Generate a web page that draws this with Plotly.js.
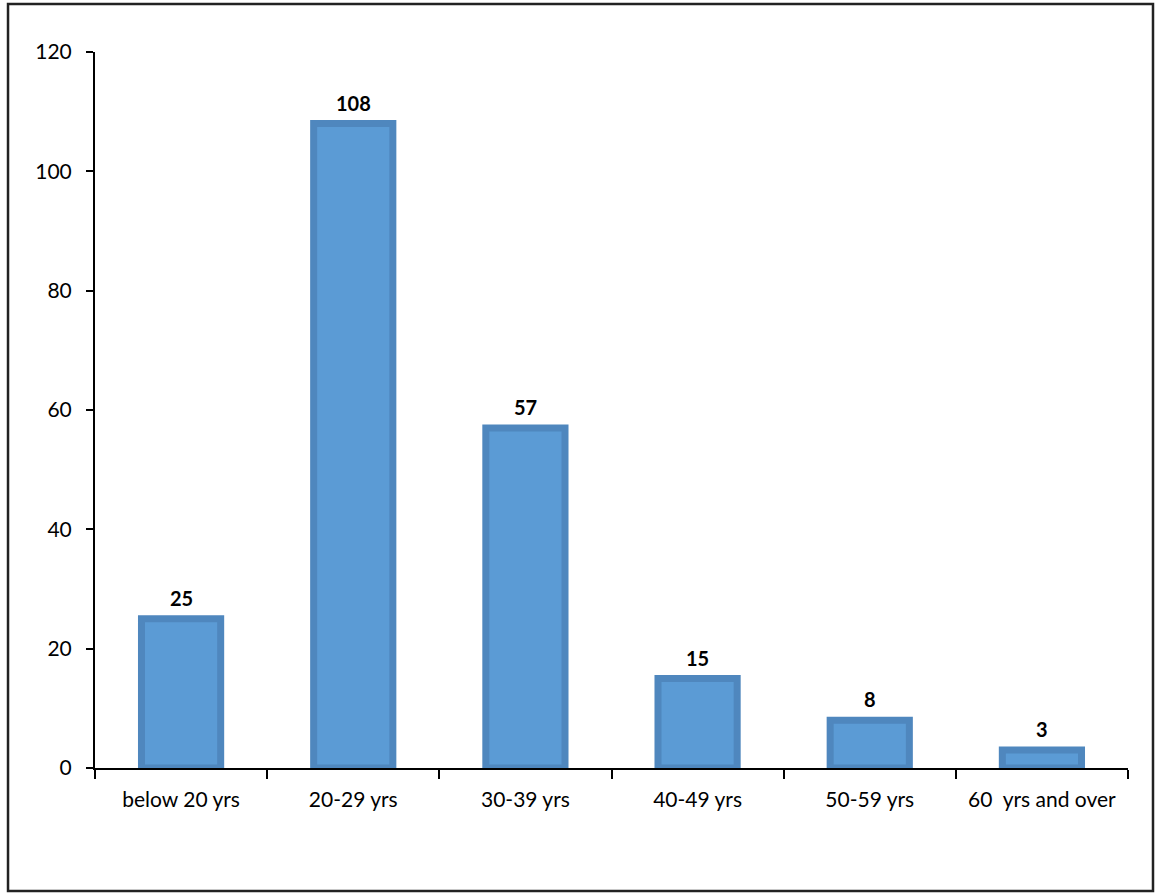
<!DOCTYPE html>
<html>
<head>
<meta charset="utf-8">
<script src="https://cdn.plot.ly/plotly-3.0.1.min.js"></script>
<style>
html,body{margin:0;padding:0;background:#fff;}
#chart{width:1156px;height:894px;}
</style>
</head>
<body>
<div id="chart"></div>
<script>
var categories = ["below 20 yrs", "20-29 yrs", "30-39 yrs", "40-49 yrs", "50-59 yrs", "60  yrs and over"];
var values = [25, 108, 57, 15, 8, 3];
var yTicks = [0, 20, 40, 60, 80, 100, 120];

var FONT = "Lato, 'Liberation Sans', sans-serif";

var trace = {
  type: "bar",
  x: categories,
  y: values,
  width: 0.46,
  marker: {color: "#5B9BD5", line: {color: "#4F87BE", width: 7}},
  cliponaxis: true,
  hoverinfo: "x+y"
};

var annotations = categories.map(function (c, i) {
  return {
    x: c, y: values[i], xref: "x", yref: "y",
    text: "<b>" + values[i] + "</b>",
    showarrow: false,
    yanchor: "bottom",
    yshift: 7,
    font: {family: FONT, size: 20, color: "#000"}
  };
});

var layout = {
  width: 1156,
  height: 894,
  margin: {l: 95, r: 28, t: 52, b: 126},
  paper_bgcolor: "#fff",
  plot_bgcolor: "#fff",
  showlegend: false,
  font: {family: FONT, size: 21, color: "#000"},
  xaxis: {
    type: "category",
    showline: true,
    linecolor: "#000",
    linewidth: 2,
    ticks: "outside",
    tickson: "boundaries",
    ticklen: 9,
    tickwidth: 2,
    tickcolor: "#000",
    showgrid: false,
    zeroline: false,
    tickfont: {size: 21},
    ticklabelstandoff: 12
  },
  yaxis: {
    range: [0, 120],
    tickvals: yTicks,
    ticktext: yTicks.map(String),
    showline: true,
    linecolor: "#000",
    linewidth: 2,
    ticks: "outside",
    ticklen: 7,
    tickwidth: 2,
    tickcolor: "#000",
    showgrid: false,
    zeroline: false,
    tickfont: {size: 21},
    ticklabelstandoff: 10
  },
  annotations: annotations,
  shapes: [{
    type: "rect",
    xref: "paper", yref: "paper",
    x0: -0.0842, x1: 1.0242, y0: -0.1718, y1: 1.067,
    line: {color: "#222", width: 2.5},
    fillcolor: "rgba(0,0,0,0)",
    layer: "above"
  }]
};

Plotly.newPlot("chart", [trace], layout, {displayModeBar: false, staticPlot: true});
</script>
</body>
</html>
